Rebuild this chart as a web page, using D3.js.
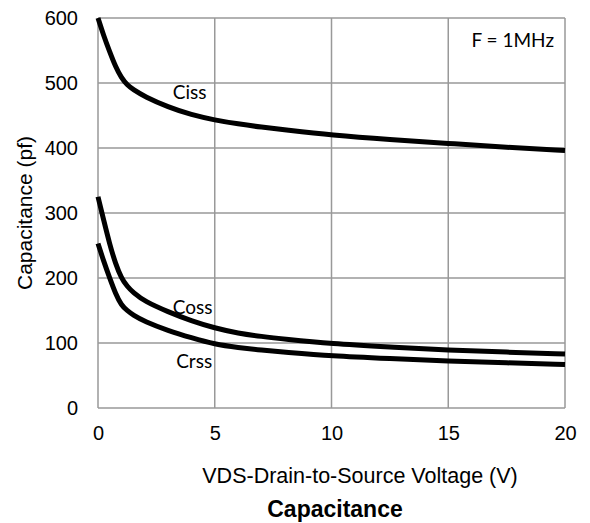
<!DOCTYPE html>
<html>
<head>
<meta charset="utf-8">
<script src="https://cdn.jsdelivr.net/npm/d3@7"></script>
<style>
  body { margin: 0; background: #fff; }
  .axis text { font-family: "Liberation Sans", Arial, sans-serif; font-size: 20px; fill: #000; }
  .note { font-family: Lato, "Open Sans", sans-serif; font-size: 19px; fill: #000; }
</style>
</head>
<body>
<div class="chart"></div>
<script>
// values (V, pF)
const vds  = [0, 0.25, 0.5, 0.75, 1, 1.25, 1.5, 2, 3, 4, 5, 6, 7, 8, 10, 12.5, 15, 17.5, 20];
const ciss = [600, 572, 548, 525, 508, 497, 490, 479, 463, 451, 443, 437, 432, 428, 420, 413, 407, 401, 396];
const coss = [325, 288, 252, 222, 200, 187, 178, 164, 148, 134, 123, 115, 110, 106, 99, 94, 89, 86, 83];
const crss = [253, 225, 200, 176, 158, 150, 143, 133, 119, 108, 98, 93, 89, 86, 80, 76, 72, 69.5, 67];
const xTicks = [0, 5, 10, 15, 20];
const yTicks = [0, 100, 200, 300, 400, 500, 600];
const labels = ["Ciss", "Coss", "Crss"];
const labelAt = [[3.2, 475], [3.2, 144], [3.35, 62]];

const margin = {top: 18, left: 98, right: 25, bottom: 115};
const width = 590 - margin.left - margin.right,
    height = 523 - margin.top - margin.bottom;

const svg = d3.select('.chart')
    .append('svg')
    .attr('width', 590)
    .attr('height', 523)
    .append("g")
    .attr("transform", "translate(" + margin.left + "," + margin.top + ")");

const xScale = d3.scaleLinear().domain([0, 20]).range([0, width]);
const yScale = d3.scaleLinear().domain([0, 600]).range([height, 0]);

// grid
svg.append("g")
    .selectAll("line")
    .data(xTicks)
    .enter()
    .append("line")
    .attr("x1", d => xScale(d)).attr("x2", d => xScale(d))
    .attr("y1", 0).attr("y2", height)
    .attr("stroke", "#999").attr("stroke-width", 1.5);

svg.append("g")
    .selectAll("line")
    .data(yTicks)
    .enter()
    .append("line")
    .attr("y1", d => yScale(d)).attr("y2", d => yScale(d))
    .attr("x1", 0).attr("x2", width)
    .attr("stroke", "#999").attr("stroke-width", 1.5);

const xAxis = d3.axisBottom(xScale).tickValues(xTicks).tickSize(0).tickPadding(18);
const yAxis = d3.axisLeft(yScale).tickValues(yTicks).tickSize(0).tickPadding(20);

svg.append("g")
    .attr("class", "axis x-axis")
    .attr("transform", "translate(0," + height + ")")
    .call(xAxis)
    .call(g => g.select(".domain").remove());

svg.append("g")
    .attr("class", "axis y-axis")
    .call(yAxis)
    .call(g => g.select(".domain").remove());

const line = d3.line()
    .x(d => xScale(d[0]))
    .y(d => yScale(d[1]))
    .curve(d3.curveBasis);

[ciss, coss, crss].forEach(s => {
    svg.append("path")
        .datum(vds.map((v, i) => [v, s[i]]))
        .attr("d", line)
        .attr("fill", "none")
        .attr("stroke", "#000")
        .attr("stroke-width", 5);
});

// curve labels
svg.selectAll(".note.lbl")
    .data(labels)
    .enter()
    .append("text")
    .attr("class", "note lbl")
    .attr("x", (d, i) => xScale(labelAt[i][0]))
    .attr("y", (d, i) => yScale(labelAt[i][1]))
    .text(d => d);

svg.append("text")
    .attr("class", "note")
    .attr("x", width - 11)
    .attr("y", 29)
    .attr("text-anchor", "end")
    .text("F = 1MHz");

svg.append("text")
    .attr("x", 262)
    .attr("y", height + 75)
    .attr("text-anchor", "middle")
    .style("font-family", '"Liberation Sans", Arial, sans-serif')
    .style("font-size", "21.5px")
    .text("VDS-Drain-to-Source Voltage (V)");

svg.append("text")
    .attr("x", 237)
    .attr("y", height + 109)
    .attr("text-anchor", "middle")
    .style("font-family", '"Liberation Sans", Arial, sans-serif')
    .style("font-size", "23px")
    .style("font-weight", "bold")
    .text("Capacitance");

svg.append("text")
    .attr("transform", "translate(" + (-66) + "," + (height / 2) + ") rotate(-90)")
    .attr("text-anchor", "middle")
    .style("font-family", '"Liberation Sans", Arial, sans-serif')
    .style("font-size", "21px")
    .text("Capacitance (pf)");
</script>
</body>
</html>
